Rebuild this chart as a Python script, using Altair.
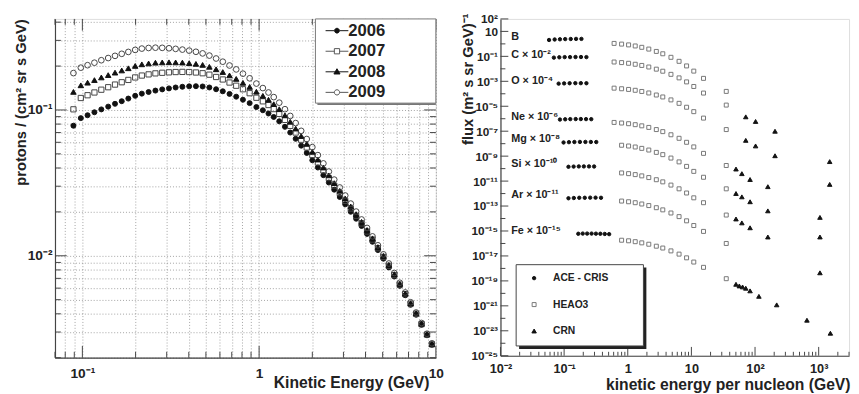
import altair as alt
import pandas as pd

FONT = "Liberation Sans"
SUP = str.maketrans("-0123456789", "⁻⁰¹²³⁴⁵⁶⁷⁸⁹")


def p10(e):
    if e == 0:
        return "1"
    if e == 1:
        return "10"
    return "10" + str(e).translate(SUP)


def label_expr(pairs):
    parts = [f"datum.value == {v!r} ? '{t}'" for v, t in pairs]
    return " : ".join(parts) + " : ''"


# ---------------- Left panel: proton spectra ----------------
years = ["2006", "2007", "2008", "2009"]
energy = [0.089, 0.098, 0.107, 0.117, 0.128, 0.140, 0.153, 0.167, 0.182, 0.199,
          0.217, 0.237, 0.259, 0.283, 0.309, 0.337, 0.368, 0.402, 0.439, 0.479,
          0.523, 0.571, 0.623, 0.680, 0.742, 0.810, 0.884, 0.965, 1.05, 1.13,
          1.21, 1.30, 1.40, 1.50, 1.61, 1.73, 1.86, 2.00, 2.15, 2.31,
          2.48, 2.66, 2.86, 3.07, 3.30, 3.54, 3.80, 4.08, 4.38, 4.70,
          5.05, 5.42, 5.82, 6.25, 6.71, 7.20, 7.73, 8.30, 8.91, 9.50]
flux_2006 = [0.078, 0.0879, 0.0920, 0.0964, 0.1009, 0.1054, 0.1102, 0.1148, 0.1197, 0.1250,
             0.1294, 0.1327, 0.1358, 0.1384, 0.1406, 0.1426, 0.1442, 0.1452, 0.1455, 0.1449,
             0.1426, 0.1387, 0.1343, 0.1288, 0.1233, 0.1175, 0.1114, 0.1047, 0.0995, 0.0946,
             0.0895, 0.0836, 0.0766, 0.0700, 0.0634, 0.0569, 0.0507, 0.0452, 0.0403, 0.0357,
             0.0318, 0.0284, 0.0253, 0.02254, 0.02004, 0.01795, 0.0160, 0.01413, 0.01247, 0.01094,
             0.00955, 0.00832, 0.00721, 0.00622, 0.00536, 0.00461, 0.00394, 0.00336, 0.00285, 0.00245]
flux_2007 = [0.101, 0.1208, 0.1262, 0.1318, 0.1377, 0.1432, 0.1493, 0.1549, 0.1607, 0.1671,
             0.1722, 0.1754, 0.1782, 0.1799, 0.1811, 0.1820, 0.1824, 0.1820, 0.1807, 0.1786,
             0.1746, 0.1683, 0.1618, 0.1542, 0.1466, 0.1387, 0.1303, 0.1213, 0.1146, 0.1081,
             0.1014, 0.0940, 0.0855, 0.0778, 0.0700, 0.0625, 0.0553, 0.0491, 0.0436, 0.0385,
             0.0341, 0.0303, 0.0269, 0.0238, 0.0211, 0.0188, 0.01667, 0.01466, 0.01291, 0.01127,
             0.00982, 0.00853, 0.00738, 0.00634, 0.00546, 0.00469, 0.00400, 0.00340, 0.00288, 0.00247]
flux_2008 = [0.133, 0.1476, 0.1538, 0.1603, 0.1671, 0.1734, 0.1803, 0.1866, 0.1932, 0.2004,
             0.2056, 0.2084, 0.2109, 0.2118, 0.2123, 0.2118, 0.2113, 0.2094, 0.2070, 0.2037,
             0.1977, 0.1901, 0.1820, 0.1726, 0.1633, 0.1535, 0.1439, 0.1334, 0.1250, 0.1175,
             0.1096, 0.1012, 0.0918, 0.0830, 0.0745, 0.0662, 0.0585, 0.0516, 0.0457, 0.0403,
             0.0356, 0.0315, 0.0279, 0.0247, 0.0218, 0.0193, 0.0171, 0.01503, 0.01318, 0.01148,
             0.00999, 0.00867, 0.00748, 0.00643, 0.00551, 0.00473, 0.00404, 0.00342, 0.00290, 0.00248]
flux_2009 = [0.179, 0.195, 0.2028, 0.2109, 0.2193, 0.2270, 0.2350, 0.2427, 0.2500, 0.2582,
             0.2636, 0.2661, 0.2673, 0.2667, 0.2649, 0.2624, 0.2594, 0.2553, 0.2506, 0.2443,
             0.2360, 0.2254, 0.2143, 0.2018, 0.1897, 0.1774, 0.1648, 0.1517, 0.1413, 0.1318,
             0.1225, 0.1122, 0.1012, 0.0910, 0.0813, 0.0719, 0.0632, 0.0556, 0.0490, 0.0430,
             0.0378, 0.0333, 0.0294, 0.0259, 0.0228, 0.0201, 0.01774, 0.01552, 0.01358, 0.01180,
             0.01023, 0.00885, 0.00762, 0.00653, 0.00560, 0.00480, 0.00408, 0.00346, 0.00292, 0.00251]

left_rows = []
for yr, fl in zip(years, [flux_2006, flux_2007, flux_2008, flux_2009]):
    for e, f in zip(energy, fl):
        left_rows.append({"year": yr, "energy": e, "flux": f})
df_left = pd.DataFrame(left_rows)

lx_major = [0.1, 1.0, 10.0]
lx_minor = [0.07, 0.08, 0.09] + [m / 10 for m in range(2, 10)] + [float(m) for m in range(2, 10)]
ly_major = [0.01, 0.1]
ly_minor = [m / 1000 for m in range(2, 10)] + [m / 100 for m in range(2, 10)] + [0.2, 0.3, 0.4]
left_x_grid = sorted(lx_major + lx_minor)
left_y_grid = sorted(ly_major + ly_minor)

lx_scale = alt.Scale(type="log", domain=[0.07, 10], nice=False)
ly_scale = alt.Scale(type="log", domain=[0.002, 0.421], nice=False)
LW, LH = 389, 346

left_x_axis = alt.Axis(
    values=left_x_grid, labelExpr=label_expr([(0.1, p10(-1)), (1.0, "1"), (10.0, "10")]),
    grid=True, gridDash=[1, 2], gridColor="#8a8a8a", gridWidth=0.8, ticks=False,
    domainColor="#444", domainWidth=1.2, labelFont=FONT, labelFontSize=14, labelFontWeight="bold",
    labelColor="#222", labelPadding=9, labelFlush=False, labelOverlap=False,
    title="Kinetic Energy (GeV)", titleFont=FONT, titleFontSize=16, titleFontWeight="bold",
    titleColor="#222", titleAlign="right", titleX=382, titleY=30, titleBaseline="alphabetic")
left_y_axis = alt.Axis(
    values=left_y_grid, labelExpr=label_expr([(0.01, p10(-2)), (0.1, p10(-1))]),
    grid=True, gridDash=[1, 2], gridColor="#8a8a8a", gridWidth=0.8, ticks=False,
    domainColor="#444", domainWidth=1.2, labelFont=FONT, labelFontSize=14, labelFontWeight="bold",
    labelColor="#222", labelPadding=3, labelFlush=False, labelOverlap=False,
    title="protons / (cm² sr s GeV)", titleFont=FONT, titleFontSize=15, titleFontWeight="bold",
    titleColor="#222", titleAngle=270, titleAlign="right", titleBaseline="middle",
    titleX=-35, titleY=0)

left_points = alt.Chart(df_left).mark_point(filled=True, strokeWidth=1, opacity=1).encode(
    x=alt.X("energy:Q", scale=lx_scale, axis=left_x_axis),
    y=alt.Y("flux:Q", scale=ly_scale, axis=left_y_axis),
    shape=alt.Shape("year:N", scale=alt.Scale(domain=years, range=["circle", "square", "triangle-up", "circle"]), legend=None),
    fill=alt.Fill("year:N", scale=alt.Scale(domain=years, range=["#111", "transparent", "#111", "transparent"]), legend=None),
    stroke=alt.Stroke("year:N", scale=alt.Scale(domain=years, range=["#111", "#444", "#111", "#444"]), legend=None),
    size=alt.Size("year:N", scale=alt.Scale(domain=years, range=[26, 34, 36, 30]), legend=None),
)

one = pd.DataFrame({"k": [0]})


def box(x1, x2, y1, y2, fill, stroke=None):
    kw = {"fill": fill}
    if stroke:
        kw.update(stroke=stroke, strokeWidth=1)
    return alt.Chart(one).mark_rect(**kw).encode(
        x=alt.value(x1), x2=alt.value(x2), y=alt.value(y1), y2=alt.value(y2))


def vticks(vals, scale, y1, y2):
    return alt.Chart(pd.DataFrame({"energy": vals})).mark_rule(color="#444", strokeWidth=1).encode(
        x=alt.X("energy:Q", scale=scale), y=alt.value(y1), y2=alt.value(y2))


def hticks(vals, scale, x1, x2):
    return alt.Chart(pd.DataFrame({"flux": vals})).mark_rule(color="#444", strokeWidth=1).encode(
        y=alt.Y("flux:Q", scale=scale), x=alt.value(x1), x2=alt.value(x2))


LINES = "M-2.6,0L-0.6,0M0.6,0L2.6,0"
leg_paths = [
    LINES + "M0.55,0A0.55,0.55 0 1,1 -0.55,0A0.55,0.55 0 1,1 0.55,0Z",
    LINES + "M-0.6,-0.6L0.6,-0.6L0.6,0.6L-0.6,0.6Z",
    "M-2.6,0L2.6,0M0,-0.7L0.7,0.5L-0.7,0.5Z",
    LINES + "M0.6,0A0.6,0.6 0 1,1 -0.6,0A0.6,0.6 0 1,1 0.6,0Z",
]
left_legend = alt.Legend(
    title=None, orient="none", legendX=266, legendY=0, padding=3.5, rowPadding=3,
    symbolSize=80, symbolOffset=10, labelOffset=3, symbolStrokeWidth=1, symbolOpacity=1,
    labelFont=FONT, labelFontSize=17, labelFontWeight="bold", labelColor="#222")
left_leg_layer = alt.Chart(df_left).transform_filter("false").mark_point(filled=True, strokeWidth=1, opacity=1).encode(
    x=alt.X("energy:Q", scale=lx_scale),
    y=alt.Y("flux:Q", scale=ly_scale),
    shape=alt.Shape("year:N", scale=alt.Scale(domain=years, range=leg_paths), legend=left_legend),
    fill=alt.Fill("year:N", scale=alt.Scale(domain=years, range=["#111", "white", "#111", "white"]), legend=left_legend),
    stroke=alt.Stroke("year:N", scale=alt.Scale(domain=years, range=["#111", "#555", "#111", "#555"]), legend=left_legend),
)

left = alt.layer(
    vticks(lx_major, lx_scale, LH, LH - 12), vticks(lx_minor, lx_scale, LH, LH - 6),
    vticks(lx_major, lx_scale, 0, 12), vticks(lx_minor, lx_scale, 0, 6),
    hticks(ly_major, ly_scale, 0, 12), hticks(ly_minor, ly_scale, 0, 6),
    hticks(ly_major, ly_scale, LW - 12, LW), hticks(ly_minor, ly_scale, LW - 6, LW),
    left_points,
    box(268, LW, 2, 88, "#777"),
    box(266, LW, 0, 86, "white", "#777"),
    left_leg_layer,
).resolve_scale(
    shape="independent", fill="independent", stroke="independent"
).properties(width=LW, height=LH)

# ---------------- Right panel: nuclei fluxes ----------------
species = ["B", "C", "O", "Ne", "Mg", "Si", "Ar", "Fe"]
species_labels = ["B", "C × 10⁻²", "O × 10⁻⁴", "Ne × 10⁻⁶", "Mg × 10⁻⁸", "Si × 10⁻¹⁰", "Ar × 10⁻¹¹", "Fe × 10⁻¹⁵"]

ace_e = {
    "B": [0.058, 0.071, 0.086, 0.104, 0.127, 0.154, 0.187],
    "C": [0.069, 0.084, 0.102, 0.124, 0.151, 0.184, 0.224],
    "O": [0.082, 0.100, 0.122, 0.150, 0.183, 0.224],
    "Ne": [0.086, 0.104, 0.125, 0.152, 0.183, 0.221, 0.267],
    "Mg": [0.098, 0.119, 0.145, 0.177, 0.216, 0.263, 0.320],
    "Si": [0.117, 0.141, 0.170, 0.204, 0.246, 0.296],
    "Ar": [0.117, 0.142, 0.173, 0.211, 0.257, 0.312, 0.380],
    "Fe": [0.167, 0.196, 0.230, 0.270, 0.316, 0.371, 0.435, 0.510],
}
ace_f = {
    "B": [2.05, 2.25, 2.33, 2.42, 2.46, 2.51, 2.51],
    "C": [0.079, 0.084, 0.087, 0.087, 0.0885, 0.0885, 0.087],
    "O": [6.5e-4, 6.8e-4, 7.0e-4, 7.1e-4, 7.1e-4, 7.0e-4],
    "Ne": [8.6e-7, 9.0e-7, 9.3e-7, 9.4e-7, 9.4e-7, 9.3e-7, 9.2e-7],
    "Mg": [1.25e-8, 1.32e-8, 1.36e-8, 1.38e-8, 1.38e-8, 1.37e-8, 1.35e-8],
    "Si": [1.40e-10, 1.46e-10, 1.50e-10, 1.50e-10, 1.50e-10, 1.48e-10],
    "Ar": [4.2e-13, 4.4e-13, 4.6e-13, 4.6e-13, 4.7e-13, 4.7e-13, 4.6e-13],
    "Fe": [6.0e-16, 6.2e-16, 6.2e-16, 6.2e-16, 6.1e-16, 6.0e-16, 5.8e-16, 5.6e-16],
}
heao_e_a = [0.61, 0.80, 1.03, 1.31, 1.66, 2.14, 2.81, 3.55, 4.77, 6.4, 8.4, 10.9, 15.5, 35.3]
heao_e_b = [0.80, 1.03, 1.31, 1.66, 2.14, 2.81, 3.55, 4.77, 6.4, 8.4, 10.9, 15.5, 35.3]
heao_f = {
    "B": [1.09, 0.96, 0.83, 0.68, 0.53, 0.383, 0.248, 0.161, 0.0838, 0.0399, 0.0171, 0.00655, 0.00172, 1.55e-4],
    "C": [0.0352, 0.0316, 0.0278, 0.0232, 0.0187, 0.0140, 0.0094, 0.00643, 0.00361, 0.00188, 8.97e-4, 3.84e-4, 1.14e-4, 1.24e-5],
    "O": [2.82e-4, 2.53e-4, 2.23e-4, 1.90e-4, 1.53e-4, 1.16e-4, 7.96e-5, 5.55e-5, 3.23e-5, 1.71e-5, 8.32e-6, 3.69e-6, 1.12e-6, 1.35e-7],
    "Ne": [5.05e-7, 4.53e-7, 3.99e-7, 3.33e-7, 2.69e-7, 2.01e-7, 1.35e-7, 9.23e-8, 5.18e-8, 2.70e-8, 1.29e-8, 5.51e-9, 1.67e-9, 1.78e-10],
    "Mg": [7.48e-9, 6.49e-9, 5.41e-9, 4.20e-9, 3.09e-9, 2.00e-9, 1.32e-9, 7.02e-10, 3.47e-10, 1.51e-10, 6.01e-11, 2.03e-11, 2.40e-12],
    "Si": [4.50e-11, 3.96e-11, 3.31e-11, 2.62e-11, 1.92e-11, 1.29e-11, 8.69e-12, 4.79e-12, 2.40e-12, 1.11e-12, 4.56e-13, 1.85e-13, 1.90e-14],
    "Ar": [2.51e-13, 2.21e-13, 1.85e-13, 1.46e-13, 1.09e-13, 7.36e-14, 4.94e-14, 2.77e-14, 1.42e-14, 6.53e-15, 2.74e-15, 9.27e-16, 1.00e-16],
    "Fe": [1.82e-16, 1.64e-16, 1.39e-16, 1.12e-16, 8.69e-17, 6.05e-17, 4.30e-17, 2.54e-17, 1.40e-17, 7.05e-18, 3.24e-18, 1.22e-18, 1.50e-19],
}
crn_e = [71.5, 102, 206, 71.5, 102, 206, 1490, 50.2, 62.1, 83.5, 159, 1490, 50.2, 62.1, 83.5, 159,
         1047, 50.2, 62.1, 83.5, 159, 1047, 1047, 50.2, 56.6, 63.7, 71.5, 83.5, 115, 219, 654, 1527]
crn_f = [1.42e-6, 6.05e-7, 9.93e-8, 1.85e-8, 6.61e-9, 1.08e-9, 3.66e-10, 9.27e-11, 3.96e-11, 1.34e-11,
         3.58e-12, 5.43e-12, 1.01e-12, 5.47e-13, 2.21e-13, 4.12e-14, 1.23e-14, 9.21e-15, 4.47e-15, 1.81e-15,
         3.31e-16, 3.31e-16, 4.44e-19, 5.35e-20, 3.94e-20, 3.28e-20, 2.59e-20, 1.59e-20, 5.80e-21, 1.20e-21,
         7.05e-23, 6.37e-24]

instruments = ["ACE - CRIS", "HEAO3", "CRN"]
rrows = []
for sp in species:
    for e, f in zip(ace_e[sp], ace_f[sp]):
        rrows.append({"inst": "ACE - CRIS", "energy": e, "flux": f})
    he = heao_e_a if len(heao_f[sp]) == len(heao_e_a) else heao_e_b
    for e, f in zip(he, heao_f[sp]):
        rrows.append({"inst": "HEAO3", "energy": e, "flux": f})
for e, f in zip(crn_e, crn_f):
    rrows.append({"inst": "CRN", "energy": e, "flux": f})
df_right = pd.DataFrame(rrows)

df_lab = pd.DataFrame({"label": species_labels, "flux": [ace_f[s][0] for s in species]})

rx_scale = alt.Scale(type="log", domain=[0.01, 3000], nice=False)
ry_scale = alt.Scale(type="log", domain=[1e-25, 100], nice=False)

rx_vals = [1e-2, 1e-1, 1.0, 10.0, 100.0, 1000.0]
ry_vals = [100.0, 10.0] + [float(f"1e{-k}") for k in range(1, 26, 2)]

right_x_axis = alt.Axis(
    values=rx_vals, labelExpr=label_expr([(v, p10(k)) for v, k in zip(rx_vals, range(-2, 4))]),
    grid=False, ticks=False, domainColor="#444", domainWidth=1.2,
    labelFont=FONT, labelFontSize=13, labelFontWeight="bold", labelColor="#222",
    labelPadding=7, labelFlush=False, labelOverlap=False,
    title="kinetic energy per nucleon (GeV)", titleFont=FONT, titleFontSize=16, titleFontWeight="bold",
    titleColor="#222", titleAlign="right", titleX=357, titleY=35, titleBaseline="alphabetic")
right_y_axis = alt.Axis(
    values=ry_vals,
    labelExpr=label_expr([(100.0, p10(2)), (10.0, "10")] + [(float(f"1e{-k}"), p10(-k)) for k in range(1, 26, 2)]),
    grid=False, ticks=False, domainColor="#444", domainWidth=1.2,
    labelFont=FONT, labelFontSize=12, labelFontWeight="bold", labelColor="#222",
    labelPadding=3, labelFlush=False, labelOverlap=False,
    title="flux (m² s sr GeV)⁻¹", titleFont=FONT, titleFontSize=15, titleFontWeight="bold",
    titleColor="#222", titleAngle=270, titleAlign="right", titleBaseline="middle",
    titleX=-34, titleY=-6)

right_legend = alt.Legend(
    title=None, orient="none", legendX=16, legendY=251, padding=8.5, rowPadding=16,
    symbolOffset=4.6, labelOffset=14, symbolStrokeWidth=1, symbolOpacity=1,
    labelFont=FONT, labelFontSize=10.5, labelFontWeight="bold", labelColor="#222")

right_points = alt.Chart(df_right).mark_point(filled=True, strokeWidth=1, opacity=1).encode(
    x=alt.X("energy:Q", scale=rx_scale, axis=right_x_axis),
    y=alt.Y("flux:Q", scale=ry_scale, axis=right_y_axis),
    shape=alt.Shape("inst:N", scale=alt.Scale(domain=instruments, range=["circle", "square", "triangle-up"]), legend=right_legend),
    fill=alt.Fill("inst:N", scale=alt.Scale(domain=instruments, range=["#111", "transparent", "#111"]), legend=right_legend),
    stroke=alt.Stroke("inst:N", scale=alt.Scale(domain=instruments, range=["#111", "#777", "#111"]), legend=right_legend),
    size=alt.Size("inst:N", scale=alt.Scale(domain=instruments, range=[12, 21, 18]), legend=right_legend),
)

# inward tick marks
xt_major = rx_vals
xt_minor = [m * 10.0 ** k for k in range(-2, 4) for m in range(2, 10) if m * 10.0 ** k <= 3000]
yt_long = ry_vals
yt_short = [1.0] + [float(f"1e{-k}") for k in range(2, 25, 2)]

RW, RH = 356, 344

labels = alt.Chart(df_lab).mark_text(
    align="left", baseline="middle", dy=-3, font=FONT, fontSize=11, fontWeight="bold", color="#222"
).encode(x=alt.value(11), y=alt.Y("flux:Q", scale=ry_scale), text="label:N")

right = alt.layer(
    right_points,
    vticks(xt_major, rx_scale, RH, RH - 9), vticks(xt_minor, rx_scale, RH, RH - 4),
    hticks(yt_long, ry_scale, 0, 8), hticks(yt_short, ry_scale, 0, 5),
    labels,
    box(19, 149, 254, 337, "#222"),
    box(16, 146, 251, 334, "white", "#444"),
).properties(width=RW, height=RH)

chart = alt.HConcatChart(hconcat=[left, right], spacing=66, bounds="flush").resolve_scale(
    shape="independent", fill="independent", stroke="independent", size="independent"
).properties(
    padding={"left": 5, "top": 0, "right": 0, "bottom": 0}
).configure_view(stroke="#666", strokeWidth=1.2).configure(font=FONT)

chart.save("out.html", embed_options={"renderer": "svg", "actions": False})
